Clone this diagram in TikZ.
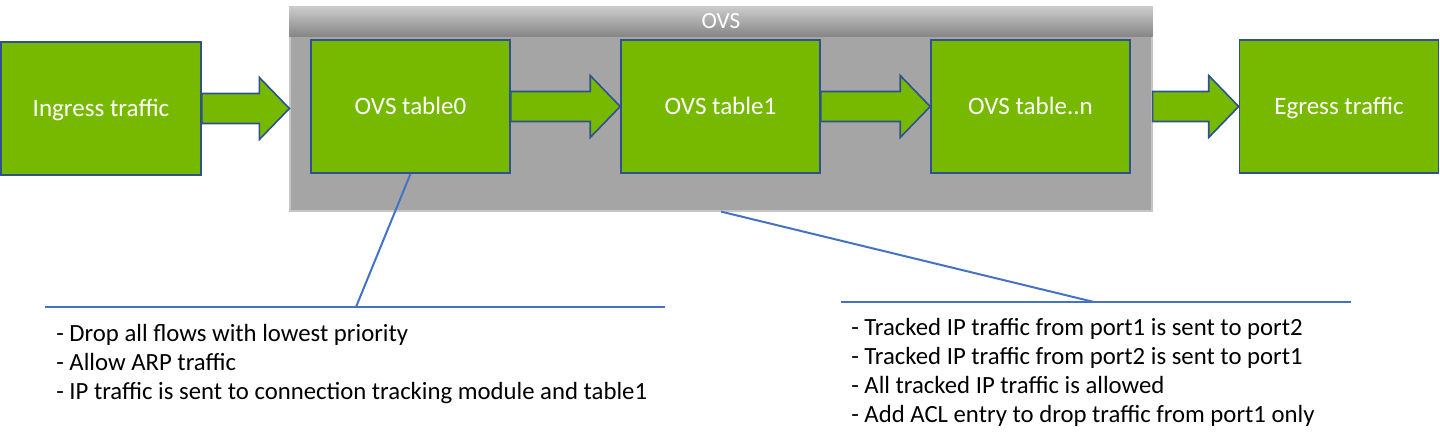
\documentclass[tikz,border=0pt]{standalone}
\usepackage{fontspec}
\setmainfont{Carlito}
\usetikzlibrary{calc}

\definecolor{nvgreen}{HTML}{76B900}
\definecolor{boxedge}{HTML}{2F528F}
\definecolor{calloutblue}{HTML}{4472C4}
\definecolor{ovsgray}{HTML}{A5A5A5}

\newcommand{\flowarrow}[2]{%
  \draw[flowarr] ($(#1)+(0,15)$) -- ($(#2)+(-30,15)$) -- ($(#2)+(-30,31)$) -- (#2)
    -- ($(#2)+(-30,-31)$) -- ($(#2)+(-30,-15)$) -- ($(#1)+(0,-15)$) -- cycle;}

\begin{document}
\begin{tikzpicture}[x=0.25mm,y=-0.25mm,
  tablebox/.style={draw=boxedge,line width=0.4mm,fill=nvgreen,text=white,
    minimum width=49.75mm,minimum height=33.25mm,text height=11.5pt,text depth=0pt,
    font=\fontsize{17.8}{20}\selectfont},
  flowarr/.style={draw=boxedge,line width=0.4mm,fill=nvgreen,line join=miter},
  callout/.style={draw=calloutblue,line width=0.5mm},
  note/.style={anchor=north west,align=left,inner sep=0pt,
    font=\fontsize{17.6}{20.6}\selectfont}]
\useasboundingbox (0,0) rectangle (1440,443);

\node [draw=gray!45,line width=0.3mm,fill=ovsgray,minimum width=215.5mm,minimum height=51mm] (ovs) at (721,109) {};
\shade [top color=gray!40,bottom color=gray!95] (ovs.north west) rectangle ($(ovs.north east)+(0,30)$);
\node [text=white,font=\fontsize{16.5}{18}\selectfont] (ovstitle) at ($(ovs.north)+(0,15)$) {OVS};

\node [tablebox,minimum width=50mm] (ingress) at (101,108.5) {Ingress traffic};
\node [tablebox] (table0) at (410.5,106.5) {OVS table0};
\node [tablebox] (table1) at (720.5,106.5) {OVS table1};
\node [tablebox] (tablen) at (1030.5,106.5) {OVS table..n};
\node [tablebox] (egress) at (1339,106.5) {Egress traffic};

\coordinate (ovsin) at (ovs.west |- ingress.east);
\coordinate (ovsout) at (ovs.east |- tablen.east);
\flowarrow{ingress.east}{ovsin}
\flowarrow{table0.east}{table1.west}
\flowarrow{table1.east}{tablen.west}
\flowarrow{ovsout}{egress.west}

\coordinate (ruleAleft) at (45,307);
\coordinate (ruleAright) at (665,307);
\coordinate (ruleAjoin) at (356,307);
\draw [callout] (table0.south) -- (ruleAjoin);
\draw [callout] (ruleAleft) -- (ruleAright);
\node [note] (noteA) at (56,324) {- Drop all flows with lowest priority\\- Allow ARP traffic\\- IP traffic is sent to connection tracking module and table1};

\coordinate (ruleBleft) at (841,302);
\coordinate (ruleBright) at (1351,302);
\coordinate (ruleBjoin) at (1094,302);
\draw [callout] (ovs.south) -- (ruleBjoin);
\draw [callout] (ruleBleft) -- (ruleBright);
\node [note] (noteB) at (851,318) {- Tracked IP traffic from port1 is sent to port2\\- Tracked IP traffic from port2 is sent to port1\\- All tracked IP traffic is allowed\\- Add ACL entry to drop traffic from port1 only};
\end{tikzpicture}
\end{document}
